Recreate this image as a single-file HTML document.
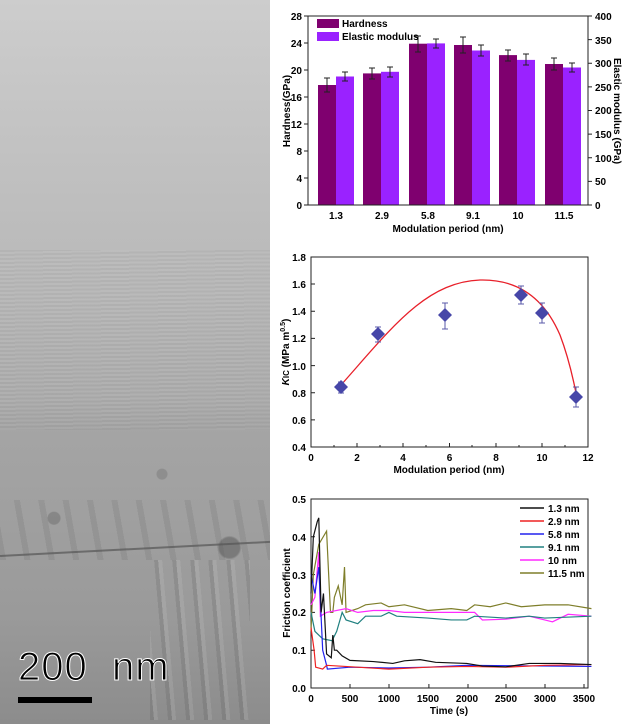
<!DOCTYPE html>
<html><head><meta charset="utf-8"><style>
body{margin:0;width:626px;height:724px;background:#fff;overflow:hidden;position:relative;font-family:"Liberation Sans",sans-serif}
#tem{position:absolute;left:0;top:0;width:270px;height:724px;overflow:hidden;background:linear-gradient(180deg,#cdcdcd 0%,#c2c2c2 20%,#b8b8b8 40%,#adadad 55%,#a4a4a4 60%,#a2a2a2 66%,#9e9e9e 75%,#9a9a9a 85%,#8c8c8c 100%)}
#stripes{position:absolute;left:0;top:250px;width:270px;height:180px;background:repeating-linear-gradient(179deg,rgba(0,0,0,0.035) 0 2px,rgba(255,255,255,0.035) 2px 4px)}
#sb{position:absolute;left:18px;top:645px;font-size:40px;color:#000;-webkit-text-stroke:1px #fff;letter-spacing:1px}
#bar{position:absolute;left:18px;top:697px;width:74px;height:6px;background:#000}
svg{position:absolute;left:0;top:0}
</style></head><body>
<div id="tem"><div id="stripes"></div>
<div style="position:absolute;left:0;top:430px;width:270px;height:294px;background:radial-gradient(circle at 20% 30%,rgba(60,60,60,0.25) 0 6px,transparent 7px),radial-gradient(circle at 60% 15%,rgba(60,60,60,0.2) 0 5px,transparent 6px),radial-gradient(circle at 85% 40%,rgba(40,40,40,0.3) 0 10px,transparent 12px);"></div>
<div style="position:absolute;left:0;top:500px;width:270px;height:60px;background:repeating-linear-gradient(80deg,rgba(70,70,70,0.12) 0 6px,rgba(0,0,0,0) 6px 24px)"></div>
<div style="position:absolute;left:0;top:555px;width:272px;height:2px;background:#555;transform:rotate(-3deg);transform-origin:0 0;opacity:.7"></div>
<div style="position:absolute;left:150px;top:560px;width:100px;height:160px;background:repeating-linear-gradient(85deg,rgba(60,60,60,0.15) 0 4px,rgba(230,230,230,0.12) 4px 8px,transparent 8px 18px)"></div>
</div>
<div id="sb">200&nbsp; nm</div><div id="bar"></div>
<svg width="626" height="724" font-family="Liberation Sans, sans-serif" font-weight="bold" font-size="10">
<g fill="#7f006f">
<rect x="318" y="85" width="18" height="120"/><rect x="363" y="73.4" width="18" height="131.6"/>
<rect x="409" y="43.7" width="18" height="161.3"/><rect x="454" y="45" width="18" height="160"/>
<rect x="499" y="55.1" width="18" height="149.9"/><rect x="545" y="64" width="18" height="141"/>
</g>
<g fill="#9a22ff">
<rect x="336" y="76.5" width="18" height="128.5"/><rect x="381" y="71.8" width="18" height="133.2"/>
<rect x="427" y="43.4" width="18" height="161.6"/><rect x="472" y="50.5" width="18" height="154.5"/>
<rect x="517" y="59.9" width="18" height="145.1"/><rect x="563" y="67.5" width="18" height="137.5"/>
</g>
<g stroke="#222" stroke-width="1">
<path d="M327 78v14M324 78h6M324 92h6M372 68v11M369 68h6M369 79h6M418 36v16M415 36h6M415 52h6M463 37v16M460 37h6M460 53h6M508 50v11M505 50h6M505 61h6M554 58v12M551 58h6M551 70h6"/>
<path d="M345 72v9M342 72h6M342 81h6M390 67v10M387 67h6M387 77h6M436 39v9M433 39h6M433 48h6M481 45v11M478 45h6M478 56h6M526 54v11M523 54h6M523 65h6M572 63v9M569 63h6M569 72h6"/>
</g>
<rect x="308" y="16" width="280" height="189" fill="none" stroke="#222"/>
<g stroke="#222"><path d="M308 16h-4M308 43h-4M308 70h-4M308 97h-4M308 124h-4M308 151h-4M308 178h-4M308 205h-4"/>
<path d="M588 16h4M588 39.6h4M588 63.3h4M588 86.9h4M588 110.5h4M588 134.1h4M588 157.8h4M588 181.4h4M588 205h4"/></g>
<g text-anchor="end" font-size="10"><text x="302" y="20">28</text><text x="302" y="47">24</text><text x="302" y="74">20</text><text x="302" y="101">16</text><text x="302" y="128">12</text><text x="302" y="155">8</text><text x="302" y="182">4</text><text x="302" y="209">0</text></g>
<g font-size="10"><text x="595" y="20">400</text><text x="595" y="44">350</text><text x="595" y="67">300</text><text x="595" y="91">250</text><text x="595" y="114">200</text><text x="595" y="138">150</text><text x="595" y="162">100</text><text x="595" y="185">50</text><text x="595" y="209">0</text></g>
<g text-anchor="middle"><text x="336" y="219">1.3</text><text x="382" y="219">2.9</text><text x="428" y="219">5.8</text><text x="473" y="219">9.1</text><text x="518" y="219">10</text><text x="564" y="219">11.5</text>
<text x="448" y="232">Modulation period (nm)</text>
<text transform="translate(290,111) rotate(-90)">Hardness(GPa)</text>
<text transform="translate(614,111) rotate(90)">Elastic modulus (GPa)</text></g>
<rect x="317" y="19" width="22" height="9" fill="#7f006f"/><text x="342" y="27">Hardness</text>
<rect x="317" y="32" width="22" height="9" fill="#9a22ff"/><text x="342" y="40">Elastic modulus</text>

<rect x="311" y="257" width="277" height="190" fill="none" stroke="#222"/>
<g stroke="#222"><path d="M311 257h4M311 284h4M311 311.3h4M311 338.4h4M311 365.6h4M311 392.7h4M311 419.9h4M311 447h4M357 447v-4M403 447v-4M449.5 447v-4M496 447v-4M542 447v-4M334 447v-2M380 447v-2M426 447v-2M472 447v-2M519 447v-2M565 447v-2"/></g>
<g text-anchor="end"><text x="306" y="261">1.8</text><text x="306" y="288">1.6</text><text x="306" y="315">1.4</text><text x="306" y="342">1.2</text><text x="306" y="370">1.0</text><text x="306" y="397">0.8</text><text x="306" y="424">0.6</text><text x="306" y="451">0.4</text></g>
<g text-anchor="middle"><text x="311" y="461">0</text><text x="357" y="461">2</text><text x="403" y="461">4</text><text x="449.5" y="461">6</text><text x="496" y="461">8</text><text x="542" y="461">10</text><text x="588" y="461">12</text>
<text x="449" y="473">Modulation period (nm)</text>
<text transform="translate(289,352) rotate(-90)"><tspan font-style="italic">K</tspan><tspan font-size="8">IC</tspan> (MPa m<tspan font-size="7" dy="-4">0.5</tspan><tspan dy="4">)</tspan></text></g>
<path d="M341 385 C390 330 425 282 480 280 C520 279 545 300 560 335 C568 356 573 378 576 393" fill="none" stroke="#e8202a" stroke-width="1.3"/>
<g stroke="#5a5aa8" stroke-width="1"><path d="M341 382v11M338 382h6M338 393h6M378 327v15M375 327h6M375 342h6M445 303v26M442 303h6M442 329h6M521 286v18M518 286h6M518 304h6M542 303v20M539 303h6M539 323h6M576 387v20M573 387h6M573 407h6"/></g>
<g fill="#4646a8"><path d="M341 380l7 7-7 7-7-7z"/><path d="M378 327l7 7-7 7-7-7z"/><path d="M445 308l7 7-7 7-7-7z"/><path d="M521 288l7 7-7 7-7-7z"/><path d="M542 306l7 7-7 7-7-7z"/><path d="M576 390l7 7-7 7-7-7z"/></g>

<rect x="311" y="499" width="277" height="189" fill="none" stroke="#222"/>
<g stroke="#222"><path d="M311 499h4M311 536.8h4M311 574.6h4M311 612.4h4M311 650.2h4M311 688h4M311 688v-4M350 688v-4M389 688v-4M428.9 688v-4M468 688v-4M506 688v-4M545 688v-4M584 688v-4"/></g>
<g text-anchor="end"><text x="306" y="503">0.5</text><text x="306" y="541">0.4</text><text x="306" y="579">0.3</text><text x="306" y="616">0.2</text><text x="306" y="654">0.1</text><text x="306" y="692">0.0</text></g>
<g text-anchor="middle"><text x="311" y="702">0</text><text x="350" y="702">500</text><text x="389" y="702">1000</text><text x="428" y="702">1500</text><text x="467" y="702">2000</text><text x="506" y="702">2500</text><text x="545" y="702">3000</text><text x="584" y="702">3500</text>
<text x="449" y="714">Time (s)</text>
<text transform="translate(290,593) rotate(-90)">Friction coefficient</text></g>
<g transform="translate(311,688) scale(0.0779,-378)" fill="none" stroke-width="1.2">
<polyline vector-effect="non-scaling-stroke" stroke="#7e7e2a" points="0,0.15 30,0.3 100,0.38 200,0.415 250,0.2 280,0.2 300,0.24 350,0.27 400,0.22 430,0.32 450,0.2 600,0.21 700,0.22 900,0.225 1000,0.215 1200,0.22 1500,0.205 1800,0.21 2000,0.205 2100,0.22 2300,0.215 2500,0.225 2700,0.215 3000,0.22 3300,0.22 3600,0.21"/>
<polyline vector-effect="non-scaling-stroke" stroke="#ff2aff" points="0,0.22 50,0.24 100,0.36 120,0.19 200,0.2 450,0.21 600,0.2 800,0.205 1000,0.205 1200,0.2 1500,0.2 2100,0.2 2200,0.18 2500,0.182 2800,0.19 3000,0.18 3100,0.175 3300,0.195 3600,0.19"/>
<polyline vector-effect="non-scaling-stroke" stroke="#208080" points="0,0.2 50,0.15 150,0.13 270,0.125 330,0.15 400,0.2 450,0.18 600,0.17 700,0.19 900,0.19 1000,0.2 1100,0.19 1500,0.185 1800,0.18 2000,0.18 2100,0.19 2500,0.185 2800,0.19 3000,0.185 3600,0.19"/>
<polyline vector-effect="non-scaling-stroke" stroke="#2222ee" points="0,0.3 50,0.25 100,0.32 150,0.1 200,0.06 210,0.05 500,0.055 1000,0.053 1500,0.055 2000,0.06 3600,0.057"/>
<polyline vector-effect="non-scaling-stroke" stroke="#ee2222" points="0,0.16 40,0.1 60,0.055 150,0.05 200,0.06 600,0.055 1000,0.05 1500,0.055 2000,0.057 2500,0.055 3000,0.06 3600,0.062"/>
<polyline vector-effect="non-scaling-stroke" stroke="#111" points="0,0.25 30,0.4 80,0.44 100,0.45 130,0.2 160,0.25 200,0.09 260,0.08 280,0.14 300,0.1 330,0.1 400,0.085 500,0.073 800,0.07 1050,0.065 1200,0.072 1400,0.075 1600,0.068 2000,0.065 2200,0.058 2500,0.056 2800,0.065 3200,0.065 3600,0.062"/>
</g>
<g font-size="10">
<path d="M520 508h24" stroke="#111" stroke-width="1.5"/><text x="548" y="512">1.3  nm</text>
<path d="M520 521h24" stroke="#ee2222" stroke-width="1.5"/><text x="548" y="525">2.9  nm</text>
<path d="M520 534h24" stroke="#2222ee" stroke-width="1.5"/><text x="548" y="538">5.8  nm</text>
<path d="M520 547h24" stroke="#208080" stroke-width="1.5"/><text x="548" y="551">9.1  nm</text>
<path d="M520 560h24" stroke="#ff2aff" stroke-width="1.5"/><text x="548" y="564">10    nm</text>
<path d="M520 573h24" stroke="#7e7e2a" stroke-width="1.5"/><text x="548" y="577">11.5 nm</text>
</g>
</svg>
</body></html>
